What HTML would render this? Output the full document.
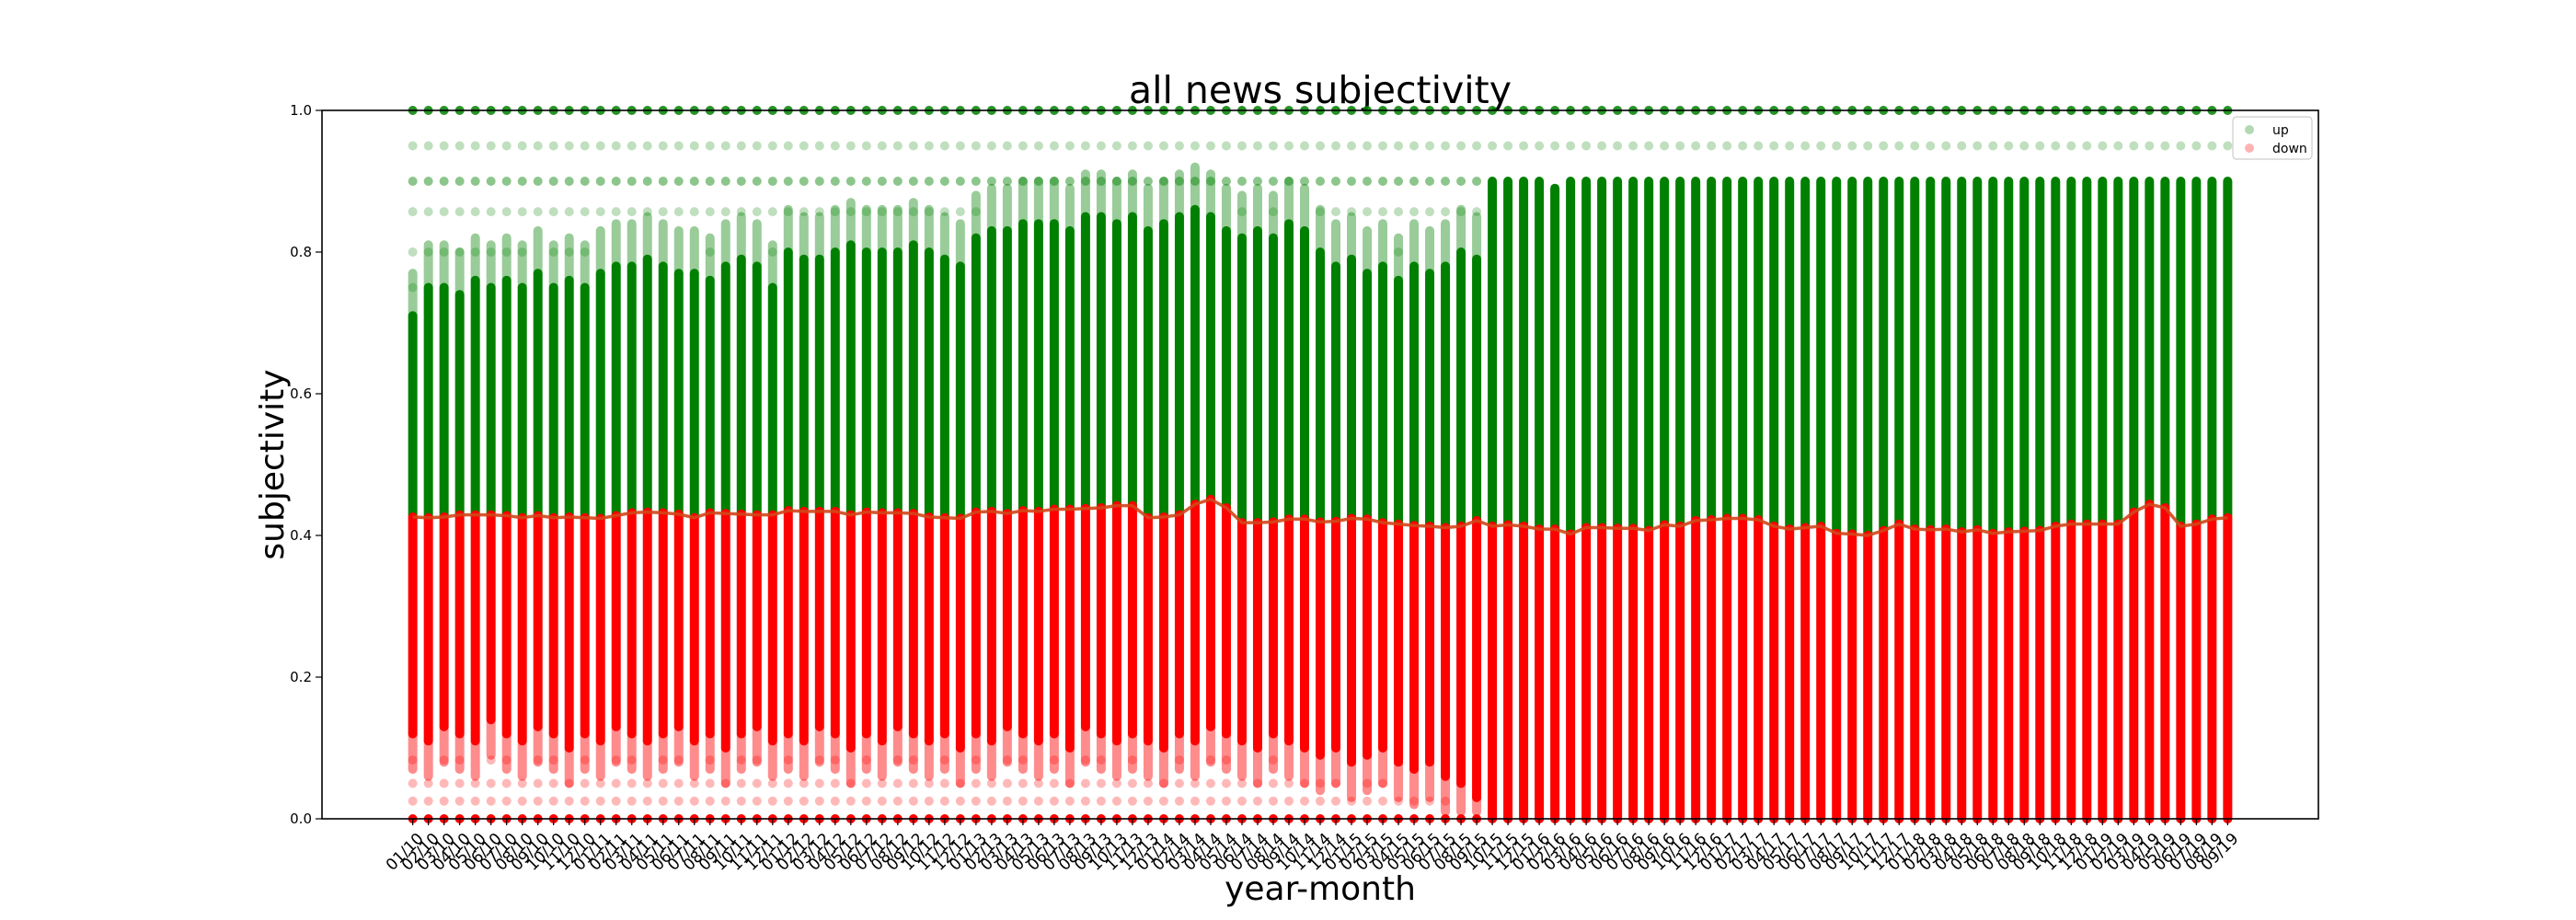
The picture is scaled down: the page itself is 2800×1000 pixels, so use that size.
<!DOCTYPE html>
<html><head><meta charset="utf-8"><style>
html,body{margin:0;padding:0;background:#fff;}
svg{display:block;font-family:"DejaVu Sans","Liberation Sans",sans-serif;}
</style></head><body>
<svg id="chart" width="2800" height="1000" viewBox="0 0 2800 1000">
<text x="1435" y="112" font-size="41" text-anchor="middle">all news subjectivity</text>
<text x="1435" y="978" font-size="36" text-anchor="middle">year-month</text>
<text transform="translate(308,505) rotate(-90)" font-size="36" text-anchor="middle">subjectivity</text>
<g id="plot"></g>
<rect x="350" y="120" width="2170" height="770" fill="none" stroke="#000" stroke-width="1.6"/>
<g id="axes"></g>
<g>
<rect x="2427" y="127" width="86" height="46" rx="4" fill="#fff" fill-opacity="0.85" stroke="#ccc" stroke-width="1.2"/>
<circle cx="2445" cy="141" r="5" fill="#008000" fill-opacity="0.3"/>
<text x="2470" y="146" font-size="14">up</text>
<circle cx="2445" cy="161" r="5" fill="#ff0000" fill-opacity="0.3"/>
<text x="2470" y="166" font-size="14">down</text>
</g>
</svg>
<script>
const years = ["10","11","12","13","14","15","16","17","18","19"];
const boundary = [.426,.425,.426,.429,.429,.429,.428,.425,.428,.425,
.426,.425,.424,.428,.432,.433,.432,.430,.425,.432,
.431,.430,.429,.429,.435,.434,.434,.434,.429,.433,
.432,.432,.431,.426,.425,.424,.433,.434,.431,.435,
.434,.437,.437,.438,.439,.442,.442,.425,.426,.429,
.444,.451,.439,.418,.418,.419,.423,.423,.419,.420,
.424,.423,.418,.416,.414,.413,.411,.413,.421,.413,
.415,.413,.409,.409,.402,.411,.411,.410,.410,.407,
.415,.413,.421,.422,.424,.424,.422,.413,.409,.411,
.413,.403,.402,.400,.407,.416,.409,.408,.409,.405,
.408,.403,.405,.406,.407,.413,.416,.416,.416,.416,
.433,.444,.439,.413,.416,.423,.425];
const greenTop = [.71,.75,.75,.74,.76,.75,.76,.75,.77,.75,.76,.75,
.77,.78,.78,.79,.78,.77,.77,.76,.78,.79,.78,.75,
.80,.79,.79,.80,.81,.80,.80,.80,.81,.80,.79,.78,
.82,.83,.83,.84,.84,.84,.83,.85,.85,.84,.85,.83,
.84,.85,.86,.85,.83,.82,.83,.82,.84,.83,
.80,.78,.79,.77,.78,.76,.78,.77,.78,.80,.79,.90,
.90,.90,.90,.89,.90,.90,.90,.90,.90,.90,.90,.90,.90,.90,.90,.90,.90,.90,.90,.90,
.90,.90,.90,.90,.90,.90,.90,.90,.90,.90,.90,.90,.90,.90,.90,.90,.90,.90,.90,.90,
.90,.90,.90,.90,.90,.90,.90];
const redLow = [.12,.11,.13,.12,.11,.14,.12,.11,.13,.12,.10,.12,
.11,.13,.12,.11,.12,.13,.11,.12,.10,.12,.13,.11,
.12,.11,.13,.12,.10,.12,.11,.13,.12,.11,.12,.10,
.12,.11,.13,.12,.11,.12,.10,.13,.12,.11,.12,.11,
.10,.12,.11,.13,.12,.11,.10,.12,.11,.10,
.09,.10,.08,.09,.10,.08,.07,.08,.06,.05,.03,.0,
0,0,0,0,0,0,0,0,0,0,0,0,0,0,0,0,0,0,0,0,0,0,0,0,0,0,0,0,0,0,0,0,0,0,0,0,0,0,0,0,0,0,0,0,0,0,0];
const upLevels = [1.0,0.95,0.9,0.857,0.8,0.75];
const downLevels = [0.083,0.05,0.025];
const yTicks = [0,0.2,0.4,0.6,0.8,1.0];

const months = [];
for (const y of years) for (let m=1;m<=12;m++){ if(months.length<117) months.push(String(m).padStart(2,'0')+'/'+y); }
const NS="http://www.w3.org/2000/svg";
const L=350,R=2520,T=120,B=890;
const xmin=-0.05*(months.length-1), xmax=(months.length-1)*1.05;
const X=i=>L+(i-xmin)/(xmax-xmin)*(R-L);
const Y=v=>B-v*(B-T);
function mk(tag,attrs,parent){const e=document.createElementNS(NS,tag);for(const k in attrs)e.setAttribute(k,attrs[k]);parent.appendChild(e);return e;}
const plot=document.getElementById('plot'), axes=document.getElementById('axes');

months.forEach((lab,i)=>{
  const x=X(i);
  const g=mk('g',{},plot);
  
  
  upLevels.forEach(v=>{ if(v>greenTop[i]+0.03){
    const c=mk('circle',{cx:x,cy:Y(v),r:5,fill:'#008000','fill-opacity':v===1.0?0.85:(v===0.9?0.45:0.25)},g);
    
    
  }});
  if (greenTop[i] < 0.89) {
    const f=mk('line',{x1:x,x2:x,y1:Y(greenTop[i]),y2:Y(Math.min(greenTop[i]+0.06,0.99)),stroke:'#008000','stroke-width':10,'stroke-linecap':'round','stroke-opacity':0.4},g);
    
    
  }
  const gl=mk('line',{x1:x,x2:x,y1:Y(boundary[i]),y2:Y(greenTop[i]),stroke:'#008000','stroke-width':10,'stroke-linecap':'round'},g);
  
  
  downLevels.forEach(v=>{ if(v<redLow[i]-0.03){
    const c=mk('circle',{cx:x,cy:Y(v),r:5,fill:'#ff0000','fill-opacity':0.28},g);
    
    
  }});
  if (redLow[i] > 0.01) {
    const f=mk('line',{x1:x,x2:x,y1:Y(Math.max(redLow[i]-0.05,0.01)),y2:Y(redLow[i]),stroke:'#ff0000','stroke-width':10,'stroke-linecap':'round','stroke-opacity':0.45},g);
    
    
  }
  const rl=mk('line',{x1:x,x2:x,y1:Y(redLow[i]),y2:Y(boundary[i]),stroke:'#ff0000','stroke-width':10,'stroke-linecap':'round'},g);
  
  
  const zc=mk('circle',{cx:x,cy:Y(0),r:5,fill:'#ff0000'},g);
  
  
  const t=mk('line',{x1:x,x2:x,y1:B,y2:B+7,stroke:'#000','stroke-width':1.2},axes);
  
  
  const tx=mk('text',{transform:`translate(${x+4},${B+14}) rotate(-45)`,'font-size':17,'text-anchor':'end','dominant-baseline':'hanging'},axes);
  tx.textContent=lab;
  
  
});
const pts=boundary.map((v,i)=>X(i)+','+Y(v)).join(' ');
const pl=mk('polyline',{points:pts,fill:'none',stroke:'#d2461a','stroke-width':3.5,'stroke-opacity':0.9},plot);


yTicks.forEach(v=>{
  const t=mk('line',{x1:L-7,x2:L,y1:Y(v),y2:Y(v),stroke:'#000','stroke-width':1.2},axes);
  
  
  const tx=mk('text',{x:L-11,y:Y(v)+5,'font-size':15,'text-anchor':'end'},axes);
  tx.textContent=v.toFixed(1);
  
  
});
</script>
</body></html>
